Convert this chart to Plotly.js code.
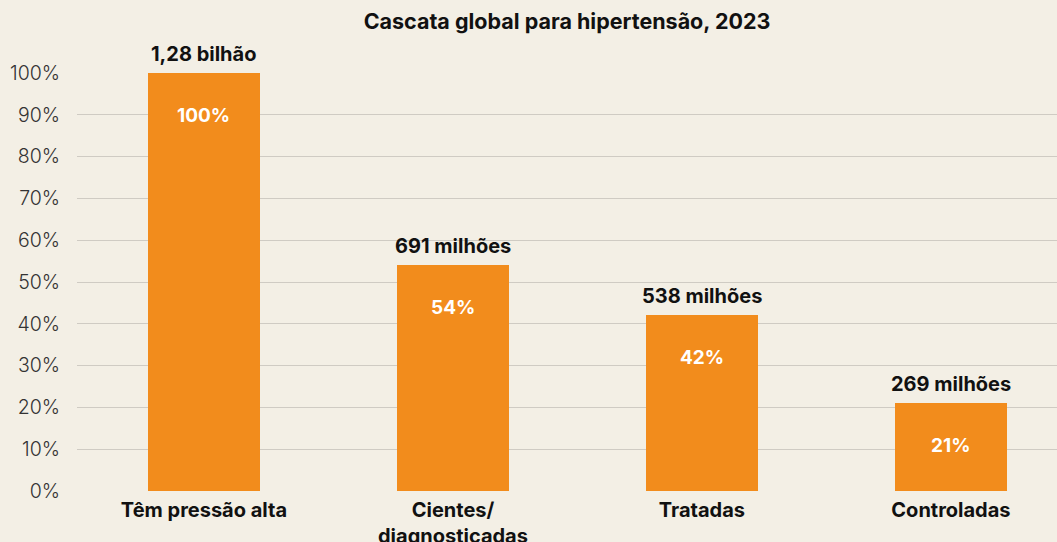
<!DOCTYPE html>
<html>
<head>
<meta charset="utf-8">
<script src="https://cdn.plot.ly/plotly-3.0.1.min.js"></script>
<style>
html,body{margin:0;padding:0;background:#F3EFE5;overflow:hidden;}
#chart{width:1057px;height:542px;}
</style>
</head>
<body>
<div id="chart"></div>
<script>
const categories = ["Têm pressão alta", "Cientes/<br>diagnosticadas", "Tratadas", "Controladas"];
const percentValues = [100, 54, 42, 21];
const countLabels = ["1,28 bilhão", "691 milhões", "538 milhões", "269 milhões"];
const percentLabels = ["100%", "54%", "42%", "21%"];
const yTickValues = [0, 10, 20, 30, 40, 50, 60, 70, 80, 90, 100];
const yTickLabels = ["0%", "10%", "20%", "30%", "40%", "50%", "60%", "70%", "80%", "90%", "100%"];

const FONT = "Inter, 'Noto Sans', sans-serif";
const xIdx = categories.map((c, i) => i);

const annotations = [];
xIdx.forEach(i => {
  annotations.push({
    x: i, y: percentValues[i], xref: 'x', yref: 'y',
    text: countLabels[i], showarrow: false,
    yanchor: 'bottom', yshift: 5,
    font: {family: FONT, size: 20, color: '#111111', weight: 700}
  });
  annotations.push({
    x: i, y: percentValues[i], xref: 'x', yref: 'y',
    text: percentLabels[i], showarrow: false,
    yanchor: 'middle', yshift: -42,
    font: {family: FONT, size: 19, color: '#FFFFFF', weight: 700}
  });
});

const trace = {
  type: 'bar',
  x: xIdx,
  y: percentValues,
  width: 0.45,
  marker: {color: '#F28C1C', line: {width: 0}},
  hoverinfo: 'none'
};

const layout = {
  width: 1057, height: 542,
  paper_bgcolor: '#F3EFE5',
  plot_bgcolor: '#F3EFE5',
  margin: {l: 77, r: 0, t: 73, b: 51, pad: 0},
  title: {
    text: 'Cascata global para hipertensão, 2023',
    x: 0.5, xref: 'paper', y: 0.96, yref: 'container', yanchor: 'middle',
    font: {family: FONT, size: 21.5, color: '#111111', weight: 700}
  },
  xaxis: {
    range: [-0.51, 3.426],
    tickvals: xIdx,
    ticktext: categories,
    showgrid: false, zeroline: false, showline: false,
    ticks: 'outside', ticklen: 1, tickcolor: 'rgba(0,0,0,0)',
    tickfont: {family: FONT, size: 20, color: '#111111', weight: 700},
    fixedrange: true
  },
  yaxis: {
    range: [0, 100],
    tickvals: yTickValues,
    ticktext: yTickLabels,
    showgrid: true, gridcolor: '#CFCBC3', gridwidth: 1,
    zeroline: false, showline: false,
    ticks: 'outside', ticklen: 12, tickcolor: 'rgba(0,0,0,0)',
    tickfont: {family: FONT, size: 19.5, color: '#333333', weight: 300},
    fixedrange: true
  },
  annotations: annotations,
  showlegend: false,
  bargap: 0
};

Plotly.newPlot('chart', [trace], layout, {displayModeBar: false, staticPlot: true});
</script>
</body>
</html>
